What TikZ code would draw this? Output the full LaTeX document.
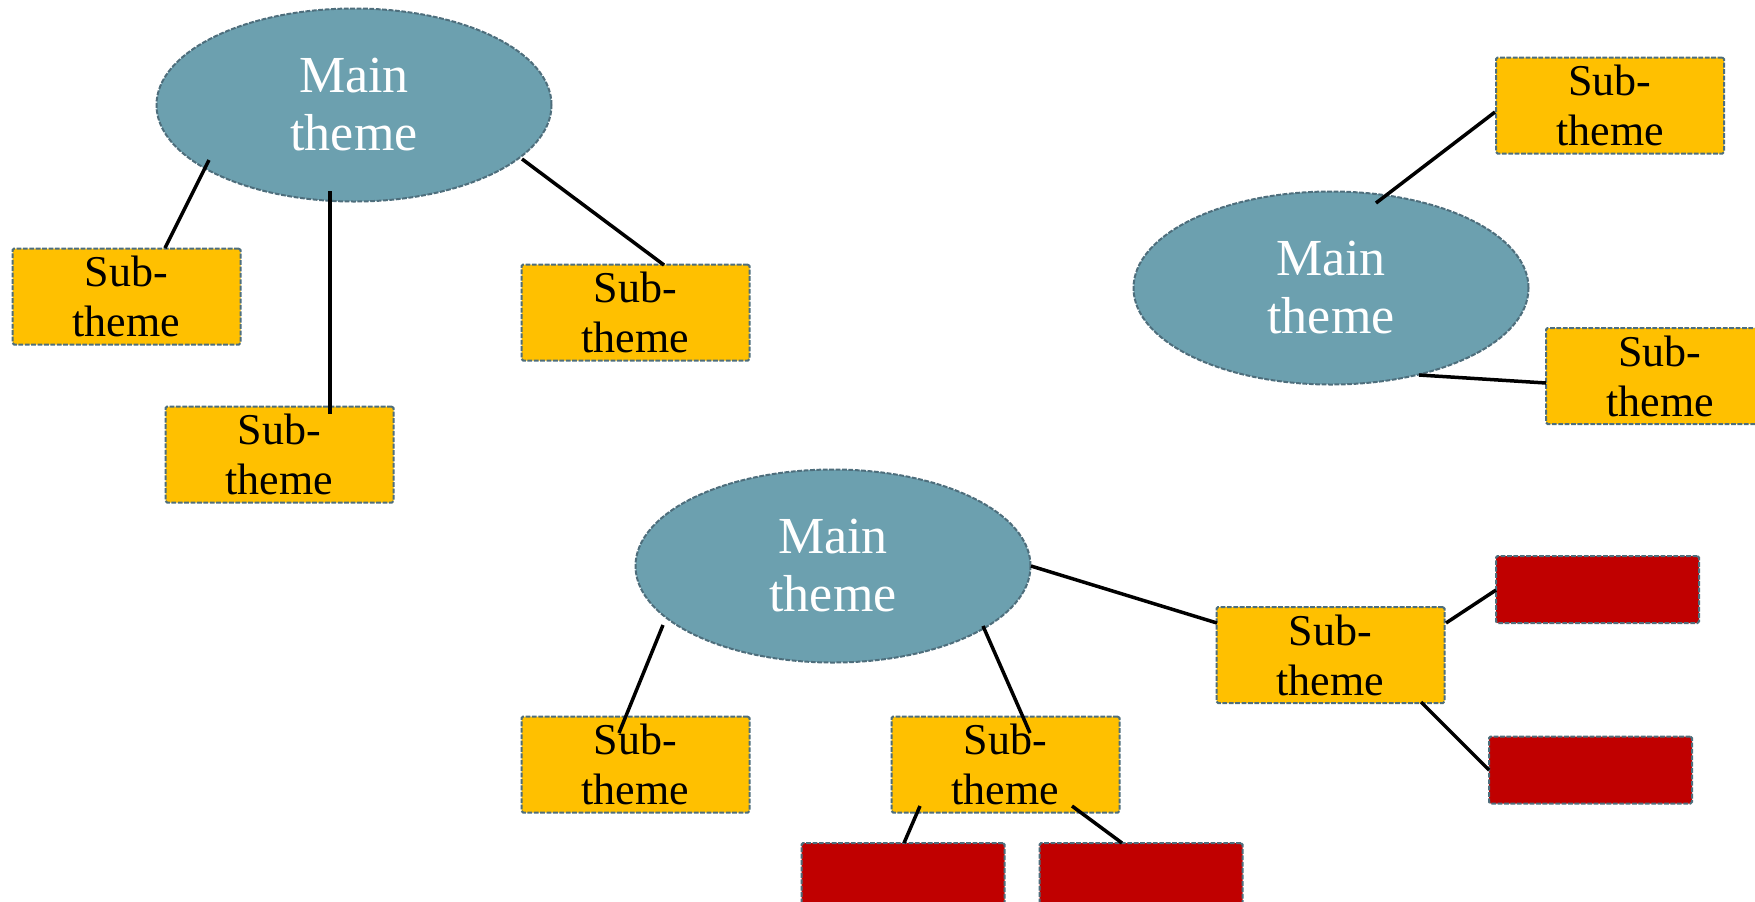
\documentclass[tikz,border=0pt]{standalone}
\usepackage{fontspec}
\setmainfont{Liberation Serif}
\usetikzlibrary{shapes.geometric,calc}
\definecolor{mainfill}{RGB}{108,160,175}
\definecolor{subfill}{RGB}{255,192,0}
\definecolor{redfill}{RGB}{192,0,0}
\definecolor{edgeblue}{RGB}{78,110,124}
\tikzset{
  brd/.style={draw=edgeblue, line width=1pt, dash pattern=on 2.4pt off 0.8pt},
  mainnode/.style={brd, ellipse, fill=mainfill, minimum width=197.5pt, minimum height=96.5pt, inner sep=0pt,
    text=white, align=center, font=\fontsize{26}{29}\selectfont},
  subnode/.style={brd, rectangle, rounded corners=0.8pt, fill=subfill, minimum width=114pt, minimum height=48pt, inner sep=0pt,
    align=center, font=\fontsize{22}{25}\selectfont},
  rednode/.style={brd, rectangle, rounded corners=0.8pt, fill=redfill, minimum width=101.5pt, minimum height=33.5pt, inner sep=0pt},
  link/.style={draw=black, line width=1.75pt}
}
\begin{document}
\begin{tikzpicture}[x=0.5pt,y=-0.5pt]
\useasboundingbox (0,0) rectangle (1755,901);
\clip (0,0) rectangle (1755,901);
% main themes
\node[mainnode] (e1) at (354,105) {Main\\theme};
\node[mainnode] (e2) at (1331,288) {Main\\theme};
\node[mainnode] (e3) at (833,566) {Main\\theme};
% sub themes
\node[subnode] (a) at (126.5,296.5) {Sub-\\theme};
\node[subnode] (b) at (279.5,454.5) {Sub-\\theme};
\node[subnode] (c) at (635.5,312.5) {Sub-\\theme};
\node[subnode] (d) at (1610,105.5) {Sub-\\theme};
\node[subnode] (e) at (1660,376) {Sub-\\theme};
\node[subnode] (f) at (635.5,764.5) {Sub-\\theme};
\node[subnode] (g) at (1005.5,764.5) {Sub-\\theme};
\node[subnode] (h) at (1330.5,655) {Sub-\\theme};
% red boxes
\node[rednode] (r1) at (1597.5,589.5) {};
\node[rednode] (r2) at (1590.5,770) {};
\node[rednode] (r3) at (903,876.5) {};
\node[rednode] (r4) at (1141,876.5) {};
% connectors
\draw[link] ($(e1.center)+(-145,55)$) -- ($(a.center)+(38.5,-48.5)$);
\draw[link] ($(e1.center)+(-24,86)$) -- ($(b.center)+(50.5,-40.5)$);
\draw[link] ($(e1.center)+(168,54)$) -- ($(c.center)+(28.5,-47.5)$);
\draw[link] ($(e2.center)+(45,-85)$) -- ($(d.center)+(-115,6.5)$);
\draw[link] ($(e2.center)+(88,87)$) -- ($(e.center)+(-114,7)$);
\draw[link] ($(e3.center)+(198,0)$) -- ($(h.center)+(-113.5,-32)$);
\draw[link] ($(e3.center)+(-170,59)$) -- ($(f.center)+(-16.5,-31.5)$);
\draw[link] ($(e3.center)+(150,60)$) -- ($(g.center)+(24.5,-31.5)$);
\draw[link] ($(h.center)+(115.5,-32)$) -- ($(r1.center)+(-101.5,0.5)$);
\draw[link] ($(h.center)+(90.5,47)$) -- ($(r2.center)+(-101.5,0)$);
\draw[link] ($(g.center)+(-85.5,41.5)$) -- ($(r3.center)+(1,-33.5)$);
\draw[link] ($(g.center)+(66.5,41.5)$) -- ($(r4.center)+(-19,-33.5)$);
\end{tikzpicture}
\end{document}
